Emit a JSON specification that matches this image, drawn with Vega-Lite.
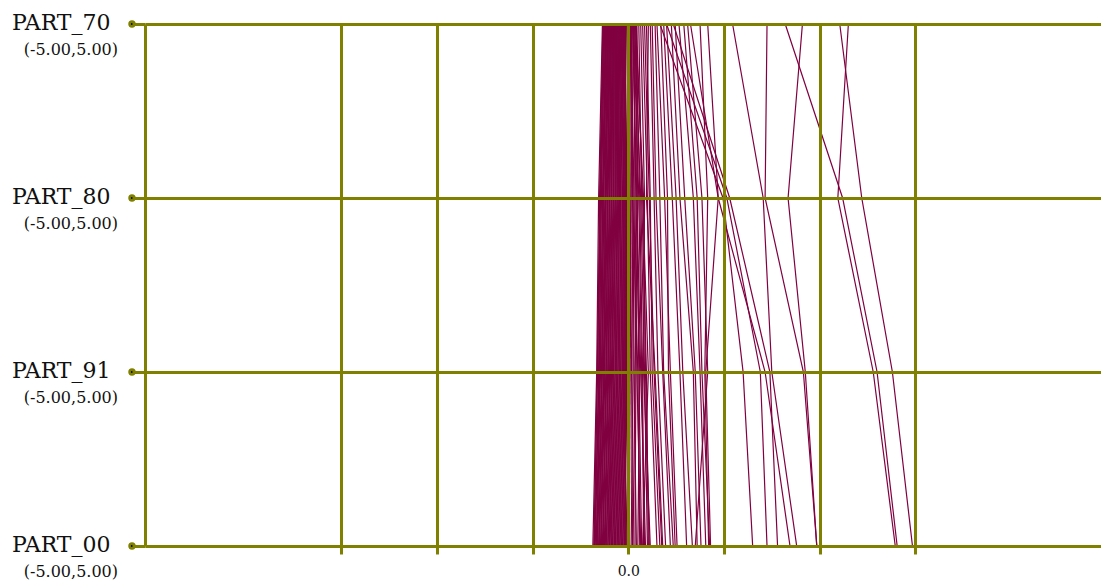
{
  "$schema": "https://vega.github.io/schema/vega-lite/v6.json",
  "width": 956,
  "height": 522,
  "padding": {"left": 145, "top": 24, "right": 0, "bottom": 34},
  "autosize": {"type": "none"},
  "background": "white",
  "config": {"view": {"stroke": null}},
  "datasets": {
    "lines": [
      {"id": 1, "PART_70": -0.27, "PART_80": -0.31, "PART_91": -0.33, "PART_00": -0.37},
      {"id": 2, "PART_70": -0.265, "PART_80": -0.30, "PART_91": -0.32, "PART_00": -0.36},
      {"id": 3, "PART_70": -0.26, "PART_80": -0.29, "PART_91": -0.325, "PART_00": -0.355},
      {"id": 4, "PART_70": -0.255, "PART_80": -0.295, "PART_91": -0.31, "PART_00": -0.35},
      {"id": 5, "PART_70": -0.25, "PART_80": -0.28, "PART_91": -0.305, "PART_00": -0.345},
      {"id": 6, "PART_70": -0.245, "PART_80": -0.285, "PART_91": -0.30, "PART_00": -0.335},
      {"id": 7, "PART_70": -0.24, "PART_80": -0.27, "PART_91": -0.29, "PART_00": -0.33},
      {"id": 8, "PART_70": -0.235, "PART_80": -0.265, "PART_91": -0.295, "PART_00": -0.325},
      {"id": 9, "PART_70": -0.23, "PART_80": -0.26, "PART_91": -0.28, "PART_00": -0.32},
      {"id": 10, "PART_70": -0.225, "PART_80": -0.255, "PART_91": -0.275, "PART_00": -0.31},
      {"id": 11, "PART_70": -0.22, "PART_80": -0.245, "PART_91": -0.27, "PART_00": -0.305},
      {"id": 12, "PART_70": -0.215, "PART_80": -0.24, "PART_91": -0.26, "PART_00": -0.30},
      {"id": 13, "PART_70": -0.21, "PART_80": -0.235, "PART_91": -0.255, "PART_00": -0.29},
      {"id": 14, "PART_70": -0.205, "PART_80": -0.23, "PART_91": -0.25, "PART_00": -0.285},
      {"id": 15, "PART_70": -0.20, "PART_80": -0.22, "PART_91": -0.245, "PART_00": -0.28},
      {"id": 16, "PART_70": -0.195, "PART_80": -0.215, "PART_91": -0.235, "PART_00": -0.27},
      {"id": 17, "PART_70": -0.19, "PART_80": -0.21, "PART_91": -0.23, "PART_00": -0.265},
      {"id": 18, "PART_70": -0.185, "PART_80": -0.20, "PART_91": -0.225, "PART_00": -0.26},
      {"id": 19, "PART_70": -0.18, "PART_80": -0.195, "PART_91": -0.215, "PART_00": -0.25},
      {"id": 20, "PART_70": -0.175, "PART_80": -0.19, "PART_91": -0.21, "PART_00": -0.245},
      {"id": 21, "PART_70": -0.17, "PART_80": -0.18, "PART_91": -0.205, "PART_00": -0.24},
      {"id": 22, "PART_70": -0.165, "PART_80": -0.175, "PART_91": -0.195, "PART_00": -0.23},
      {"id": 23, "PART_70": -0.16, "PART_80": -0.17, "PART_91": -0.19, "PART_00": -0.225},
      {"id": 24, "PART_70": -0.155, "PART_80": -0.16, "PART_91": -0.185, "PART_00": -0.215},
      {"id": 25, "PART_70": -0.15, "PART_80": -0.155, "PART_91": -0.175, "PART_00": -0.21},
      {"id": 26, "PART_70": -0.145, "PART_80": -0.15, "PART_91": -0.17, "PART_00": -0.20},
      {"id": 27, "PART_70": -0.14, "PART_80": -0.14, "PART_91": -0.165, "PART_00": -0.195},
      {"id": 28, "PART_70": -0.135, "PART_80": -0.135, "PART_91": -0.155, "PART_00": -0.19},
      {"id": 29, "PART_70": -0.13, "PART_80": -0.13, "PART_91": -0.15, "PART_00": -0.18},
      {"id": 30, "PART_70": -0.125, "PART_80": -0.12, "PART_91": -0.14, "PART_00": -0.175},
      {"id": 31, "PART_70": -0.12, "PART_80": -0.115, "PART_91": -0.135, "PART_00": -0.165},
      {"id": 32, "PART_70": -0.115, "PART_80": -0.11, "PART_91": -0.125, "PART_00": -0.16},
      {"id": 33, "PART_70": -0.11, "PART_80": -0.10, "PART_91": -0.12, "PART_00": -0.15},
      {"id": 34, "PART_70": -0.105, "PART_80": -0.095, "PART_91": -0.11, "PART_00": -0.145},
      {"id": 35, "PART_70": -0.10, "PART_80": -0.09, "PART_91": -0.105, "PART_00": -0.135},
      {"id": 36, "PART_70": -0.095, "PART_80": -0.08, "PART_91": -0.095, "PART_00": -0.13},
      {"id": 37, "PART_70": -0.09, "PART_80": -0.075, "PART_91": -0.09, "PART_00": -0.12},
      {"id": 38, "PART_70": -0.085, "PART_80": -0.065, "PART_91": -0.08, "PART_00": -0.115},
      {"id": 39, "PART_70": -0.08, "PART_80": -0.06, "PART_91": -0.075, "PART_00": -0.105},
      {"id": 40, "PART_70": -0.075, "PART_80": -0.05, "PART_91": -0.065, "PART_00": -0.10},
      {"id": 41, "PART_70": -0.07, "PART_80": -0.045, "PART_91": -0.06, "PART_00": -0.09},
      {"id": 42, "PART_70": -0.065, "PART_80": -0.04, "PART_91": -0.05, "PART_00": -0.085},
      {"id": 43, "PART_70": -0.06, "PART_80": -0.03, "PART_91": -0.045, "PART_00": -0.075},
      {"id": 44, "PART_70": -0.055, "PART_80": -0.025, "PART_91": -0.035, "PART_00": -0.07},
      {"id": 45, "PART_70": -0.05, "PART_80": -0.02, "PART_91": -0.03, "PART_00": -0.06},
      {"id": 46, "PART_70": -0.045, "PART_80": -0.015, "PART_91": -0.02, "PART_00": -0.055},
      {"id": 47, "PART_70": -0.04, "PART_80": -0.01, "PART_91": -0.015, "PART_00": -0.045},
      {"id": 48, "PART_70": -0.035, "PART_80": -0.03, "PART_91": -0.01, "PART_00": -0.04},
      {"id": 49, "PART_70": -0.03, "PART_80": -0.02, "PART_91": -0.025, "PART_00": -0.03},
      {"id": 50, "PART_70": -0.025, "PART_80": -0.035, "PART_91": -0.04, "PART_00": -0.02},
      {"id": 51, "PART_70": -0.02, "PART_80": -0.05, "PART_91": -0.06, "PART_00": -0.01},
      {"id": 52, "PART_70": 0.02, "PART_80": 0.04, "PART_91": 0.05, "PART_00": 0.03},
      {"id": 53, "PART_70": 0.03, "PART_80": 0.06, "PART_91": 0.08, "PART_00": 0.07},
      {"id": 54, "PART_70": 0.04, "PART_80": 0.03, "PART_91": 0.02, "PART_00": 0.01},
      {"id": 55, "PART_70": 0.05, "PART_80": 0.08, "PART_91": 0.12, "PART_00": 0.10},
      {"id": 56, "PART_70": 0.06, "PART_80": 0.07, "PART_91": 0.09, "PART_00": 0.13},
      {"id": 57, "PART_70": 0.07, "PART_80": 0.10, "PART_91": 0.07, "PART_00": 0.05},
      {"id": 58, "PART_70": 0.08, "PART_80": 0.12, "PART_91": 0.15, "PART_00": 0.16},
      {"id": 59, "PART_70": 0.09, "PART_80": 0.09, "PART_91": 0.13, "PART_00": 0.18},
      {"id": 60, "PART_70": 0.11, "PART_80": 0.14, "PART_91": 0.19, "PART_00": 0.21},
      {"id": 61, "PART_70": 0.13, "PART_80": 0.17, "PART_91": 0.16, "PART_00": 0.23},
      {"id": 62, "PART_70": 0.15, "PART_80": 0.20, "PART_91": 0.23, "PART_00": 0.30},
      {"id": 63, "PART_70": 0.19, "PART_80": 0.23, "PART_91": 0.25, "PART_00": 0.33},
      {"id": 64, "PART_70": 0.21, "PART_80": 0.19, "PART_91": 0.28, "PART_00": 0.36},
      {"id": 65, "PART_70": 0.23, "PART_80": 0.27, "PART_91": 0.31, "PART_00": 0.39},
      {"id": 66, "PART_70": 0.25, "PART_80": 0.29, "PART_91": 0.36, "PART_00": 0.44},
      {"id": 67, "PART_70": 0.28, "PART_80": 0.33, "PART_91": 0.37, "PART_00": 0.47},
      {"id": 68, "PART_70": 0.30, "PART_80": 0.38, "PART_91": 0.44, "PART_00": 0.51},
      {"id": 69, "PART_70": 0.34, "PART_80": 0.41, "PART_91": 0.42, "PART_00": 0.49},
      {"id": 70, "PART_70": 0.37, "PART_80": 0.46, "PART_91": 0.54, "PART_00": 0.61},
      {"id": 71, "PART_70": 0.40, "PART_80": 0.50, "PART_91": 0.57, "PART_00": 0.67},
      {"id": 72, "PART_70": 0.45, "PART_80": 0.54, "PART_91": 0.68, "PART_00": 0.72},
      {"id": 73, "PART_70": 0.49, "PART_80": 0.59, "PART_91": 0.70, "PART_00": 0.76},
      {"id": 74, "PART_70": 0.53, "PART_80": 0.68, "PART_91": 0.75, "PART_00": 0.81},
      {"id": 75, "PART_70": 0.58, "PART_80": 0.72, "PART_91": 0.77, "PART_00": 0.85},
      {"id": 76, "PART_70": 0.75, "PART_80": 0.83, "PART_91": 0.80, "PART_00": 0.84},
      {"id": 77, "PART_70": 0.83, "PART_80": 0.94, "PART_91": 0.81, "PART_00": 0.86},
      {"id": 78, "PART_70": 0.33, "PART_80": 0.99, "PART_91": 1.20, "PART_00": 1.30},
      {"id": 79, "PART_70": 0.40, "PART_80": 1.03, "PART_91": 1.38, "PART_00": 1.45},
      {"id": 80, "PART_70": 0.47, "PART_80": 1.06, "PART_91": 1.48, "PART_00": 1.56},
      {"id": 81, "PART_70": 0.65, "PART_80": 0.94, "PART_91": 1.43, "PART_00": 1.69},
      {"id": 82, "PART_70": 1.09, "PART_80": 1.41, "PART_91": 1.50, "PART_00": 1.76},
      {"id": 83, "PART_70": 1.45, "PART_80": 1.43, "PART_91": 1.83, "PART_00": 1.97},
      {"id": 84, "PART_70": 1.82, "PART_80": 1.67, "PART_91": 1.85, "PART_00": 1.97},
      {"id": 85, "PART_70": 1.64, "PART_80": 2.24, "PART_91": 2.60, "PART_00": 2.81},
      {"id": 86, "PART_70": 2.21, "PART_80": 2.44, "PART_91": 2.76, "PART_00": 2.97},
      {"id": 87, "PART_70": 2.30, "PART_80": 2.19, "PART_91": 2.56, "PART_00": 2.79},
      {"id": 88, "PART_70": 0.015, "PART_80": 0.02, "PART_91": 0.035, "PART_00": 0.045},
      {"id": 89, "PART_70": 0.025, "PART_80": 0.05, "PART_91": 0.06, "PART_00": 0.085},
      {"id": 90, "PART_70": 0.035, "PART_80": 0.045, "PART_91": 0.10, "PART_00": 0.12},
      {"id": 91, "PART_70": 0.045, "PART_80": 0.09, "PART_91": 0.11, "PART_00": 0.14},
      {"id": 92, "PART_70": 0.055, "PART_80": 0.11, "PART_91": 0.14, "PART_00": 0.17},
      {"id": 93, "PART_70": 0.065, "PART_80": 0.13, "PART_91": 0.17, "PART_00": 0.20},
      {"id": 94, "PART_70": 0.075, "PART_80": 0.16, "PART_91": 0.18, "PART_00": 0.22},
      {"id": 95, "PART_70": 0.085, "PART_80": 0.15, "PART_91": 0.21, "PART_00": 0.15},
      {"id": 96, "PART_70": 0.17, "PART_80": 0.22, "PART_91": 0.27, "PART_00": 0.35},
      {"id": 97, "PART_70": 0.62, "PART_80": 0.77, "PART_91": 0.83, "PART_00": 0.70}
    ],
    "parts": [
      {"part": "PART_70", "range": "(-5.00,5.00)"},
      {"part": "PART_80", "range": "(-5.00,5.00)"},
      {"part": "PART_91", "range": "(-5.00,5.00)"},
      {"part": "PART_00", "range": "(-5.00,5.00)"}
    ]
  },
  "encoding": {
    "y": {
      "field": "part",
      "type": "nominal",
      "sort": ["PART_70", "PART_80", "PART_91", "PART_00"],
      "scale": {"type": "point", "padding": 0},
      "axis": {
        "title": null,
        "zindex": 1,
        "grid": true,
        "gridColor": "#808000",
        "gridWidth": 3,
        "gridOpacity": 1,
        "domain": true,
        "domainColor": "#808000",
        "domainWidth": 3,
        "ticks": true,
        "tickColor": "#808000",
        "tickWidth": 3,
        "tickSize": 13,
        "labelFont": "DejaVu Serif",
        "labelFontSize": 22,
        "labelColor": "#111111",
        "labelPadding": 22,
        "labelBaseline": "middle",
        "labelOffset": -2
      }
    }
  },
  "layer": [
    {
      "data": {"name": "lines"},
      "transform": [
        {"fold": ["PART_70", "PART_80", "PART_91", "PART_00"], "as": ["part", "value"]},
        {"window": [{"op": "row_number", "as": "k"}], "groupby": ["id"]}
      ],
      "mark": {"type": "line", "stroke": "#800040", "strokeWidth": 1.2},
      "encoding": {
        "x": {
          "field": "value",
          "type": "quantitative",
          "scale": {"domain": [-5.05, 4.94], "nice": false, "zero": false},
          "axis": {
            "title": null,
            "zindex": 1,
            "values": [-3, -2, -1, 0, 1, 2, 3],
            "grid": true,
            "gridColor": "#808000",
            "gridWidth": 3,
            "gridOpacity": 1,
            "domain": false,
            "ticks": true,
            "tickColor": "#808000",
            "tickWidth": 3,
            "tickSize": 8,
            "labelExpr": "datum.value === 0 ? '0.0' : ''",
            "labelFont": "DejaVu Serif",
            "labelFontSize": 14,
            "labelColor": "#111111",
            "labelPadding": 10
          }
        },
        "detail": {"field": "id", "type": "nominal"},
        "order": {"field": "k", "type": "quantitative"}
      }
    },
    {
      "data": {"name": "parts"},
      "mark": {"type": "circle", "color": "#808000", "opacity": 1, "size": 55},
      "encoding": {"x": {"datum": -5.186, "type": "quantitative"}}
    },
    {
      "data": {"name": "parts"},
      "mark": {"type": "circle", "color": "#000000", "opacity": 1, "size": 5},
      "encoding": {"x": {"datum": -5.186, "type": "quantitative"}}
    },
    {
      "data": {"name": "parts"},
      "mark": {"type": "text", "align": "right", "baseline": "middle", "dy": 26, "font": "DejaVu Serif", "fontSize": 16, "color": "#111111"},
      "encoding": {
        "x": {"datum": -5.332, "type": "quantitative"},
        "text": {"field": "range"}
      }
    }
  ]
}
